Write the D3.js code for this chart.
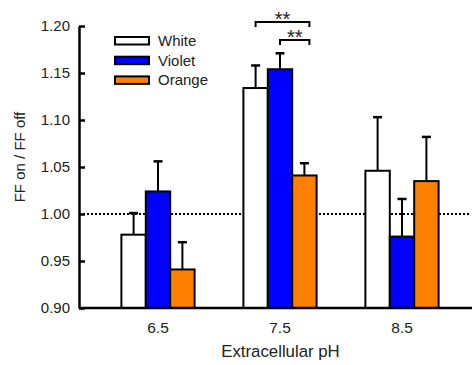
<!DOCTYPE html>
<html>
<head>
<meta charset="utf-8">
<script src="https://d3js.org/d3.v7.min.js"></script>
<style>
  body { margin: 0; background: #fff; }
  text { font-family: "Liberation Sans", Arial, sans-serif; fill: #222; }
</style>
</head>
<body>
<div id="chart"></div>
<script>
// groups on the x axis and the three light conditions
const groups = ["6.5", "7.5", "8.5"];
const series = ["White", "Violet", "Orange"];
const colors = ["#ffffff", "#0000ff", "#ff8000"];

// mean FF on / FF off, per series, one value per group
const white  = [0.978, 1.134, 1.046];
const violet = [1.024, 1.154, 0.976];
const orange = [0.941, 1.041, 1.035];
// upper error (SEM) per series
const whiteErr  = [0.023, 0.024, 0.057];
const violetErr = [0.032, 0.017, 0.040];
const orangeErr = [0.029, 0.013, 0.047];

const yTicks = [0.90, 0.95, 1.00, 1.05, 1.10, 1.15, 1.20];

// significance brackets in the 7.5 group
const brackets = [
  { group: "7.5", from: "White",  to: "Orange", level: 1.2043, label: "**" },
  { group: "7.5", from: "Violet", to: "Orange", level: 1.185,  label: "**" }
];

const means = [white, violet, orange];
const errs = [whiteErr, violetErr, orangeErr];

const data = [];
groups.forEach((g, gi) => {
  series.forEach((s, si) => {
    data.push({ group: g, series: s, value: means[si][gi], err: errs[si][gi], color: colors[si] });
  });
});

const W = 472, H = 365;
const svg = d3.select("#chart").append("svg")
  .attr("width", W)
  .attr("height", H);

const x = d3.scaleBand()
  .domain(groups)
  .range([97, 463])
  .paddingInner(0.4)
  .paddingOuter(0.2);

const xSub = d3.scaleBand()
  .domain(series)
  .range([0, x.bandwidth()])
  .padding(0);

const y = d3.scaleLinear()
  .domain([0.90, 1.20])
  .range([308, 26]);

const left = 79, right = 472;

// dotted reference line at 1.00
svg.append("line")
  .attr("x1", left).attr("x2", right - 2)
  .attr("y1", y(1.0)).attr("y2", y(1.0))
  .attr("stroke", "#000")
  .attr("stroke-width", 2)
  .attr("stroke-dasharray", "2,2");

// error bars (drawn first so bars cover the bottom)
const eb = svg.append("g");
data.forEach(d => {
  const cx = x(d.group) + xSub(d.series) + xSub.bandwidth() / 2;
  eb.append("line")
    .attr("x1", cx).attr("x2", cx)
    .attr("y1", y(d.value)).attr("y2", y(d.value + d.err))
    .attr("stroke", "#000").attr("stroke-width", 2);
  eb.append("line")
    .attr("x1", cx - 4.5).attr("x2", cx + 4.5)
    .attr("y1", y(d.value + d.err)).attr("y2", y(d.value + d.err))
    .attr("stroke", "#000").attr("stroke-width", 2.5);
});

// bars
svg.append("g").selectAll("rect")
  .data(data)
  .enter()
  .append("rect")
  .attr("x", d => x(d.group) + xSub(d.series))
  .attr("y", d => y(d.value))
  .attr("width", xSub.bandwidth())
  .attr("height", d => y(0.90) - y(d.value))
  .attr("fill", d => d.color)
  .attr("stroke", "#000")
  .attr("stroke-width", 2);

// y axis with inward ticks
const yAxis = svg.append("g")
  .attr("transform", `translate(${left},0)`)
  .call(d3.axisLeft(y).tickValues(yTicks).tickFormat(d3.format(".2f")).tickSizeInner(-6).tickSizeOuter(0).tickPadding(9));
yAxis.select(".domain").attr("stroke", "#000").attr("stroke-width", 2.5);
yAxis.selectAll(".tick line").attr("stroke", "#000").attr("stroke-width", 2.5);
yAxis.selectAll(".tick text").style("font-size", "15px").attr("fill", "#222");

// x axis line, no ticks
const xAxis = svg.append("g")
  .attr("transform", `translate(0,${y(0.90)})`)
  .call(d3.axisBottom(x).tickSize(0).tickPadding(14));
xAxis.select(".domain").attr("d", `M${left},0H${right}`).attr("stroke", "#000").attr("stroke-width", 2.5);
xAxis.selectAll(".tick text").style("font-size", "15.5px").attr("fill", "#222");

// axis titles
svg.append("text")
  .attr("x", (left + right) / 2 + 5)
  .attr("y", 357)
  .attr("text-anchor", "middle")
  .style("font-size", "16.8px")
  .text("Extracellular pH");

svg.append("text")
  .attr("transform", "translate(25,157) rotate(-90)")
  .attr("text-anchor", "middle")
  .style("font-size", "15px")
  .text("FF on / FF off");

// legend
const legend = svg.append("g").attr("transform", "translate(115,37)");
series.forEach((s, i) => {
  const row = legend.append("g").attr("transform", `translate(0,${i * 19.7})`);
  row.append("rect")
    .attr("width", 34).attr("height", 7.5)
    .attr("fill", colors[i])
    .attr("stroke", "#000").attr("stroke-width", 2);
  row.append("text")
    .attr("x", 43).attr("y", 9)
    .style("font-size", "15px")
    .text(s);
});

// significance brackets
brackets.forEach(b => {
  const x1 = x(b.group) + xSub(b.from) + xSub.bandwidth() / 2;
  const x2 = x(b.group) + xSub(b.to) + xSub.bandwidth() / 2 + 5;
  const yy = y(b.level);
  svg.append("path")
    .attr("d", `M${x1},${yy + 5}V${yy}H${x2}V${yy + 5}`)
    .attr("fill", "none")
    .attr("stroke", "#000")
    .attr("stroke-width", 2);
  svg.append("text")
    .attr("x", (x1 + x2) / 2)
    .attr("y", yy + 4)
    .attr("text-anchor", "middle")
    .style("font-size", "20px")
    .text(b.label);
});
</script>
</body>
</html>
